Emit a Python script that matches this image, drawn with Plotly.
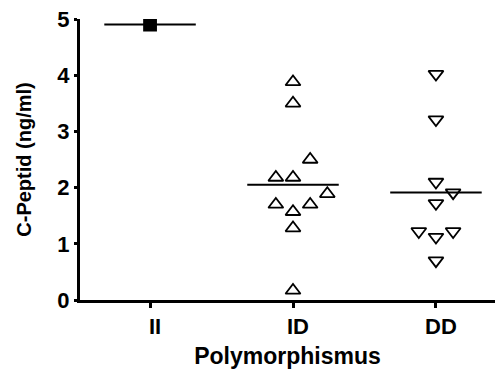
import plotly.graph_objects as go

# C-peptide by ACE polymorphism group
categories = ["II", "ID", "DD"]

ii_values = [4.90]
id_values = [3.88, 3.50, 2.50, 2.18, 2.18, 1.89, 1.70, 1.57, 1.70, 1.28, 0.17]
dd_values = [4.02, 3.21, 2.10, 1.91, 1.72, 1.22, 1.12, 1.22, 0.70]

# horizontal spread of points within a column (category units)
ii_spread = [0.0]
id_spread = [0.0, 0.0, 0.12, -0.12, 0.0, 0.24, -0.12, 0.0, 0.12, 0.0, 0.0]
dd_spread = [0.0, 0.0, 0.0, 0.12, 0.0, -0.12, 0.0, 0.12, 0.0]

groups = [
    (ii_values, ii_spread, "square", "black", 12),
    (id_values, id_spread, "triangle-up-open", "black", 13),
    (dd_values, dd_spread, "triangle-down-open", "black", 13),
]

fig = go.Figure()
half = 0.32
for i, (vals, spread, sym, col, size) in enumerate(groups):
    mean = sum(vals) / len(vals)
    fig.add_trace(go.Scatter(
        x=[i - half, i + half], y=[mean, mean], mode="lines",
        line=dict(color="black", width=2), showlegend=False, hoverinfo="skip",
    ))
    fig.add_trace(go.Scatter(
        x=[i + s for s in spread], y=vals, mode="markers",
        marker=dict(symbol=sym, size=size, color=col,
                    line=dict(color="black", width=1.8)),
        showlegend=False,
    ))

font_family = "Liberation Sans, Arial, sans-serif"
fig.update_layout(
    width=495, height=369,
    margin=dict(l=80, r=0, t=19, b=69),
    paper_bgcolor="white", plot_bgcolor="white",
    font=dict(family=font_family, color="black"),
    xaxis=dict(
        range=[-0.49, 2.413], tickvals=[0, 1, 2], ticktext=categories,
        showline=True, linewidth=3, linecolor="black", showgrid=False,
        zeroline=False, ticks="outside", ticklen=5, tickwidth=3,
        tickcolor="black", ticklabelshift=5,
        tickfont=dict(size=22, family=font_family, weight="bold"),
        title=dict(text="<b>Polymorphismus</b>", font=dict(size=23),
                   standoff=12),
    ),
    yaxis=dict(
        range=[0, 5], tickvals=[0, 1, 2, 3, 4, 5],
        showline=True, linewidth=3, linecolor="black", showgrid=False,
        zeroline=False, ticks="outside", ticklen=3, tickwidth=3,
        tickcolor="black",
        tickfont=dict(size=22, family=font_family, weight="bold"),
        title=dict(text="<b>C-Peptid (ng/ml)</b>", font=dict(size=20),
                   standoff=21),
    ),
)

fig.write_html("out.html")
